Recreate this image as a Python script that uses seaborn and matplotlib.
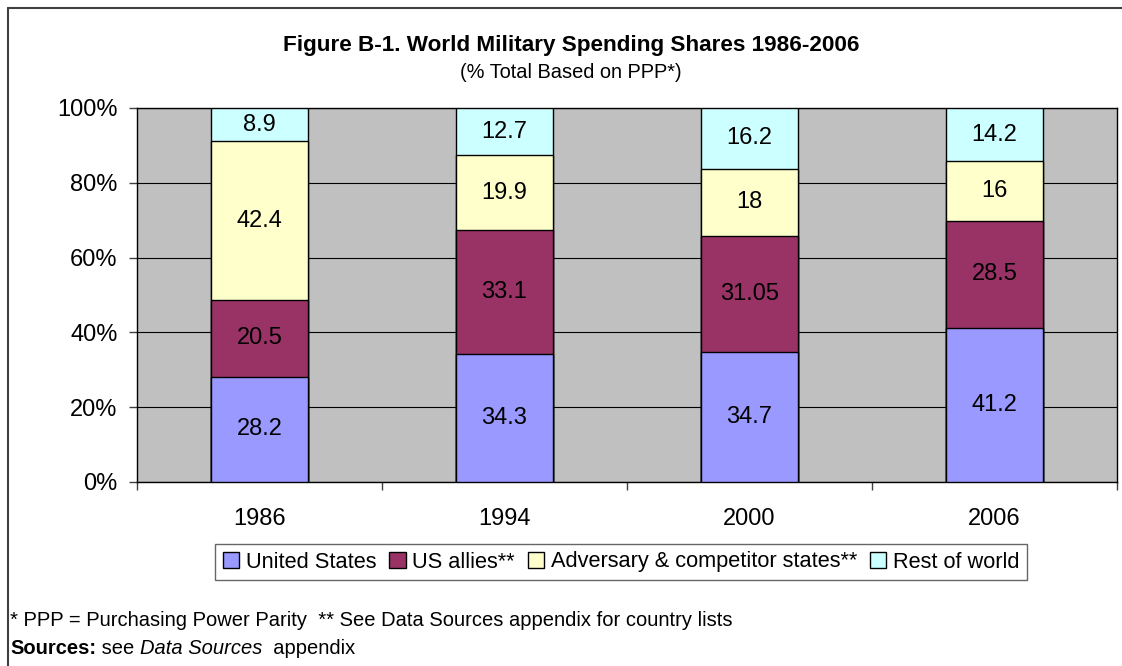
import matplotlib
matplotlib.use("Agg")
import matplotlib.pyplot as plt
import seaborn as sns
import numpy as np
import pandas as pd
from matplotlib.patches import Patch
from matplotlib.lines import Line2D

years = ["1986", "1994", "2000", "2006"]
series_names = ["United States", "US allies**", "Adversary & competitor states**", "Rest of world"]
united_states = [28.2, 34.3, 34.7, 41.2]
us_allies = [20.5, 33.1, 31.05, 28.5]
adversary = [42.4, 19.9, 18, 16]
rest_of_world = [8.9, 12.7, 16.2, 14.2]
label_text = {
    "United States": ["28.2", "34.3", "34.7", "41.2"],
    "US allies**": ["20.5", "33.1", "31.05", "28.5"],
    "Adversary & competitor states**": ["42.4", "19.9", "18", "16"],
    "Rest of world": ["8.9", "12.7", "16.2", "14.2"],
}
colors = ["#9999FF", "#993366", "#FFFFCC", "#CCFFFF"]

sns.set_theme(style="white")
plt.rcParams["font.family"] = ["Liberation Sans", "DejaVu Sans"]
plt.rcParams["text.color"] = "black"
plt.rcParams["xtick.color"] = "black"
plt.rcParams["ytick.color"] = "black"
plt.rcParams["axes.labelcolor"] = "black"

W, H = 1122, 666
fig = plt.figure(figsize=(W / 100, H / 100), dpi=100)
fig.patch.set_facecolor("white")

def fx(px):
    return px / W

def fy(py):
    return 1 - py / H

ax = fig.add_axes([fx(137), fy(482), fx(1117) - fx(137), fy(108) - fy(482)])
ax.set_facecolor("#C0C0C0")

vals = np.array([united_states, us_allies, adversary, rest_of_world], dtype=float)
totals = vals.sum(axis=0)
pct = vals / totals * 100
cum = np.cumsum(pct, axis=0)

# draw from top cumulative down so each segment shows
for i in range(3, -1, -1):
    df = pd.DataFrame({"year": years, "top": cum[i]})
    sns.barplot(data=df, x="year", y="top", color=colors[i], saturation=1,
                width=0.396, edgecolor="black", linewidth=1.0, ax=ax, zorder=3)

# labels
for i, name in enumerate(series_names):
    for j in range(len(years)):
        lo = cum[i - 1][j] if i > 0 else 0
        mid = (lo + cum[i][j]) / 2
        ax.text(j, mid, label_text[name][j], ha="center", va="center",
                fontsize=17, color="black", zorder=5)

ax.set_ylim(0, 100)
ax.set_xlim(-0.5, 3.5)
ax.set_yticks([0, 20, 40, 60, 80, 100])
ax.set_yticklabels(["0%", "20%", "40%", "60%", "80%", "100%"])
ax.yaxis.grid(True, color="black", linewidth=0.8)
ax.set_axisbelow(True)
for g in ax.get_ygridlines():
    g.set_zorder(1)
ax.set_xlabel("")
ax.set_ylabel("")

ax.set_xticks([-0.5, 0.5, 1.5, 2.5, 3.5])
ax.set_xticklabels([])
ax.set_xticks([0, 1, 2, 3], minor=True)
ax.set_xticklabels(years, minor=True)
ax.tick_params(axis="x", which="major", direction="out", length=6, width=1, color="#404040", bottom=True)
ax.tick_params(axis="x", which="minor", length=0, pad=19, labelsize=17)
ax.tick_params(axis="y", direction="out", length=6, width=1, color="#404040", left=True, pad=8, labelsize=17)
for s in ax.spines.values():
    s.set_visible(True)
    s.set_color("black")
    s.set_linewidth(1.0)

# titles
fig.text(fx(571), fy(45), "Figure B-1. World Military Spending Shares 1986-2006",
         ha="center", va="center", fontsize=16.2, fontweight="bold")
fig.text(fx(571), fy(72), "(% Total Based on PPP*)", ha="center", va="center", fontsize=14.4)

# legend
handles = [Patch(facecolor=c, edgecolor="black", linewidth=1.0) for c in colors]
leg = fig.legend(handles, series_names, loc="center", bbox_to_anchor=(fx(621), fy(562)),
                 ncol=4, fontsize=15.7, frameon=True, fancybox=False, handlelength=0.75,
                 handleheight=0.75, handletextpad=0.3, columnspacing=0.6, borderpad=0.35,
                 borderaxespad=0)
leg.get_frame().set_edgecolor("#404040")
leg.get_frame().set_linewidth(1.0)

# footer
fs = 14.5
fig.text(fx(10), fy(620), "* PPP = Purchasing Power Parity  ** See Data Sources appendix for country lists",
         ha="left", va="center", fontsize=fs)
fig.canvas.draw()
r = fig.canvas.get_renderer()
x0 = fx(10)
parts = [("Sources:", "bold", "normal"), (" see ", "normal", "normal"),
         ("Data Sources", "normal", "italic"), ("  appendix", "normal", "normal")]
for txt, wt, st in parts:
    t = fig.text(x0, fy(649), txt, ha="left", va="center", fontsize=fs, fontweight=wt, fontstyle=st)
    bb = t.get_window_extent(renderer=r)
    x0 += bb.width / W

# outer border (left and top)
fig.add_artist(Line2D([fx(7.5), fx(7.5)], [0, fy(8)], transform=fig.transFigure, color="#404040", linewidth=1.5))
fig.add_artist(Line2D([fx(7.5), 1.0], [fy(8), fy(8)], transform=fig.transFigure, color="#404040", linewidth=1.5))

fig.savefig("out.png", dpi=100)
